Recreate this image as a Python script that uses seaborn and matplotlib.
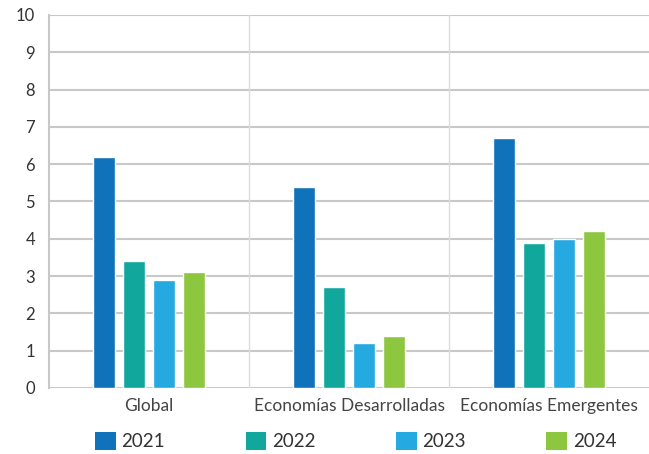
import matplotlib
matplotlib.use("Agg")
import matplotlib.pyplot as plt
import seaborn as sns
import pandas as pd
from matplotlib.patches import Patch

categories = ["Global", "Economías Desarrolladas", "Economías Emergentes"]
years = ["2021", "2022", "2023", "2024"]
v2021 = [6.2, 5.4, 6.7]
v2022 = [3.4, 2.7, 3.9]
v2023 = [2.9, 1.2, 4.0]
v2024 = [3.1, 1.4, 4.2]
yticks = list(range(0, 11))

colors = ["#1072BA", "#12A79C", "#24A9E1", "#8DC63F"]

rows = []
for y, vals in zip(years, [v2021, v2022, v2023, v2024]):
    for c, v in zip(categories, vals):
        rows.append({"cat": c, "year": y, "val": v})
df = pd.DataFrame(rows)

sns.set_theme(style="white")
plt.rcParams["font.family"] = ["Lato", "DejaVu Sans"]

fig = plt.figure(figsize=(6.49, 4.54), dpi=100)
ax = fig.add_axes([49/649, 1-388/454, 1-49/649, (388-15)/454])

sns.barplot(data=df, x="cat", y="val", hue="year", palette=colors,
            width=0.6, gap=0.27, saturation=1, ax=ax, legend=False, zorder=3)

ax.set_xlim(-0.5, 2.5)
ax.set_ylim(0, 10)
ax.set_yticks(yticks)
ax.set_yticklabels([str(t) for t in yticks], fontsize=12, color="#333333")
ax.tick_params(axis="x", labelsize=12.5, colors="#444444", length=0, pad=7)
ax.tick_params(axis="y", length=0, pad=10)
ax.set_xlabel("")
ax.set_ylabel("")

for t in yticks:
    ax.axhline(t, color="#C8C8C8", lw=1.5, zorder=1)
for xb in [0.5, 1.5]:
    ax.axvline(xb, color="#DCDCDC", lw=1.0, zorder=1)

for s in ["top", "right", "bottom"]:
    ax.spines[s].set_visible(False)
ax.spines["left"].set_color("#C8C8C8")
ax.spines["left"].set_linewidth(1.5)

handles = [Patch(facecolor=c, edgecolor="none") for c in colors]
fig.legend(handles, years, loc="center", ncol=4,
           bbox_to_anchor=(0.548, 0.028), frameon=False,
           fontsize=13.5, handlelength=1.1, handleheight=1.1,
           handletextpad=0.3, columnspacing=4.3, labelcolor="#333333",
           borderpad=0.1)

fig.savefig("out.png", dpi=100)
